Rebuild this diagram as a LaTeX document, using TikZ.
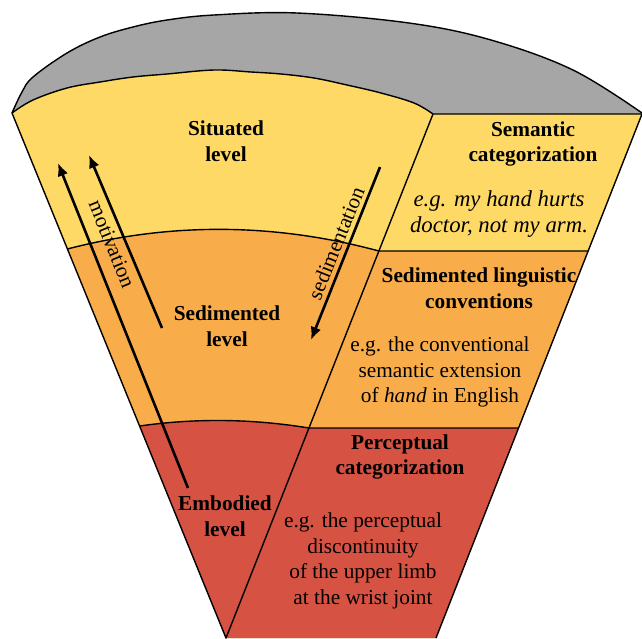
\documentclass[tikz,border=0pt]{standalone}
\usepackage{fontspec}
\setmainfont{Liberation Serif}
\usetikzlibrary{arrows.meta}

\definecolor{topgray}{RGB}{166,166,166}
\definecolor{sityellow}{RGB}{255,217,102}
\definecolor{sedorange}{RGB}{248,173,74}
\definecolor{embred}{RGB}{214,82,67}

\tikzset{
    txt/.style={align=center, inner sep=0pt, font=\fontsize{21.3}{25.5}\selectfont},
    bold/.style={txt, font=\fontsize{21.3}{25.5}\selectfont\bfseries},
    slant/.style={txt, font=\fontsize{22.8}{25.5}\selectfont\itshape},
    rim/.style={black, line width=1.4pt, line join=round},
    flow/.style={line width=2.6pt, -{Latex[length=13pt,width=11pt]}}
}

\begin{document}
\begin{tikzpicture}[x=1pt, y=-1pt]
        \useasboundingbox (0,0) rectangle (642,638);

        % corners of the wedge
        \coordinate (tl) at (12,113);
        \coordinate (tm) at (433,114);
        \coordinate (tr) at (642,114);
        \coordinate (apex) at (226,638);
        \coordinate (br) at (436,638);

        % Top: grey cut surface
        \fill[topgray] plot[smooth, tension=0.6] coordinates {(12,113) (22,92) (33,77) (67,53) (100,37) (133,27) (167,20) (214,15) (297,13) (409,23) (491,40) (573,70) (642,113)}
            -- (tr) -- (tm)
            -- plot[smooth, tension=0.6] coordinates {(433,114) (414,103) (381,93) (347,85) (314,78) (281,74) (251,72) (214,70) (167,74) (133,77) (100,82) (67,88) (33,100) (12,113)} -- cycle;

        % Faces, filled yellow first
        \fill[sityellow] plot[smooth, tension=0.6] coordinates {(12,113) (33,100) (67,88) (100,82) (133,77) (167,74) (214,70) (251,72) (281,74) (314,78) (347,85) (381,93) (414,103) (433,114)}
            -- (apex) -- cycle;
        \fill[sityellow] (tm) -- (tr) -- (br) -- (apex) -- cycle;

        % Bands: sedimented and embodied
        \begin{scope}
            \clip (tl) -- (tm) -- (tr) -- (br) -- (apex) -- cycle;
            \fill[sedorange] (0,249) -- (67.4,249) .. controls (171,222) and (275,223) .. (378.9,251)
                -- (650,251) -- (650,650) -- (0,650) -- cycle;
            \fill[embred] (0,426) -- (139.6,426) .. controls (196,418) and (252,418.7) .. (309,428)
                -- (650,428) -- (650,650) -- (0,650) -- cycle;
        \end{scope}

        % Outlines
        \draw[rim] plot[smooth, tension=0.6] coordinates {(12,113) (22,92) (33,77) (67,53) (100,37) (133,27) (167,20) (214,15) (297,13) (409,23) (491,40) (573,70) (642,113)};
        \draw[rim] plot[smooth, tension=0.6] coordinates {(12,113) (33,100) (67,88) (100,82) (133,77) (167,74) (214,70) (251,72) (281,74) (314,78) (347,85) (381,93) (414,103) (433,114)};
        \draw[rim] (tl) -- (apex) -- (tm) -- (tr) -- (br);
        \draw[rim] (67.4,249) .. controls (171,222) and (275,223) .. (378.9,251) -- (588.1,251);
        \draw[rim] (139.6,426) .. controls (196,418) and (252,418.7) .. (309,428) -- (518.6,428);

        % Arrows
        \coordinate (motA) at (188,488);
        \coordinate (motB) at (58,163);
        \coordinate (motC) at (162,328);
        \coordinate (motD) at (89,155);
        \coordinate (sedA) at (380,167);
        \coordinate (sedB) at (311,340);
        \draw[flow] (motA) -- (motB);
        \draw[flow] (motC) -- (motD);
        \draw[flow] (sedA) -- (sedB);
        \node[txt, rotate=-68] (motlab) at (112,244) {motivation};
        \node[txt, rotate=68] (sedlab) at (336,243) {sedimentation};

        % Level labels
        \node[bold] (situated) at (226,141) {Situated\\level};
        \node[bold] (sedimented) at (227,326) {Sedimented\\level};
        \node[bold] (embodied) at (225,516) {Embodied\\level};

        % Right panel
        \node[bold] (semcat) at (533,144) {Semantic\\categorization};
        \node[slant] (semex) at (499,214) {e.g. my hand hurts\\doctor, not my arm.};
        \node[bold] (sedling) at (479,288) {Sedimented linguistic\\conventions};
        \node[txt] (sedex) at (440,372) {e.g. the conventional\\semantic extension\\of \textit{hand} in English};
        \node[bold] (percat) at (400,457) {Perceptual\\categorization};
        \node[txt] (perex) at (363,561) {e.g. the perceptual\\discontinuity\\of the upper limb\\at the wrist joint};
    \end{tikzpicture}
\end{document}
